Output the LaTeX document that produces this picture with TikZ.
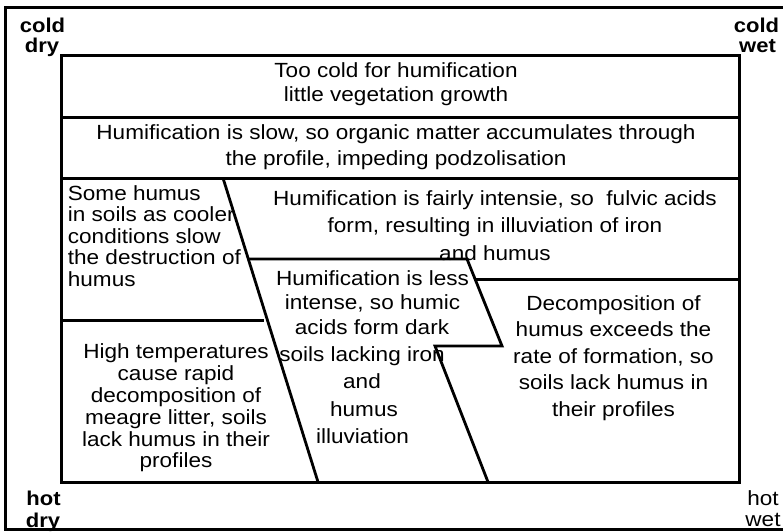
\documentclass[tikz,border=0pt]{standalone}
\usepackage{fontspec}
\setmainfont{Liberation Sans}[FakeStretch=1.1]
\begin{document}
\begin{tikzpicture}[x=1pt,y=-1pt,
  txt/.style={font=\fontsize{20.5}{24}\selectfont, inner sep=0pt, anchor=base},
  btxt/.style={font=\fontsize{20}{24}\selectfont\bfseries, inner sep=0pt, anchor=base},
  bold line/.style={line width=3pt, line join=miter},
  slant line/.style={line width=2.8pt}]
\useasboundingbox (0,0) rectangle (783,531);
% outer frame
\draw[bold line] (790,7) -- (5,7) -- (5,529) -- (790,529);
% inner box and dividers
\draw[bold line] (61,55) rectangle (739,482);
\draw[bold line] (61,117) -- (739,117);
\draw[bold line] (61,178) -- (739,178);
\draw[slant line] (223,178) -- (318,482);
\draw[bold line] (61,320) -- (264,320);
\draw[slant line] (248,259) -- (467,259) -- (502,346) -- (435,346) -- (488,482);
\draw[bold line] (476,279) -- (739,279);
% corner labels
\node[btxt] (cd1) at (42.5,32) {cold};
\node[btxt] (cd2) at (42,52) {dry};
\node[btxt] (cw1) at (756.5,32) {cold};
\node[btxt] (cw2) at (757.5,52) {wet};
\node[btxt] (hd1) at (43.5,505) {hot};
\node[btxt] (hd2) at (43,527) {dry};
\node[txt] (hw1) at (763,505) {hot};
\node[txt] (hw2) at (763,526) {wet};
% top band
\node[txt] (a1) at (396,77.7) {Too cold for humification};
\node[txt] (a2) at (396,101.7) {little vegetation growth};
% second band
\node[txt] (b1) at (396,139) {Humification is slow, so organic matter accumulates through};
\node[txt] (b2) at (396,165) {the profile, impeding podzolisation};
% top right block
\node[txt] (c1) at (495,205) {Humification is fairly intensie, so~ fulvic acids};
\node[txt] (c2) at (495,232.7) {form, resulting in illuviation of iron};
\node[txt] (c3) at (495,260) {and humus};
% left upper block
\node[txt, anchor=base west] (d1) at (67.7,200) {Some humus};
\node[txt, anchor=base west] (d2) at (67.7,221.5) {in soils as cooler};
\node[txt, anchor=base west] (d3) at (67.7,243) {conditions slow};
\node[txt, anchor=base west] (d4) at (67.7,264.5) {the destruction of};
\node[txt, anchor=base west] (d5) at (67.7,286) {humus};
% left lower block
\node[txt] (e1) at (176,358.3) {High temperatures};
\node[txt] (e2) at (176,380) {cause rapid};
\node[txt] (e3) at (176,402.7) {decomposition of};
\node[txt] (e4) at (176,424.3) {meagre litter, soils};
\node[txt] (e5) at (176,446) {lack humus in their};
\node[txt] (e6) at (176,467.3) {profiles};
% middle block
\node[txt] (f1) at (372.5,285) {Humification is less};
\node[txt] (f2) at (372.5,309) {intense, so humic};
\node[txt] (f3) at (372,334) {acids form dark};
\node[txt] (f4) at (362,361.7) {soils lacking iron};
\node[txt] (f5) at (362,388) {and};
\node[txt] (f6) at (364,416) {humus};
\node[txt] (f7) at (362.5,443) {illuviation};
% right block
\node[txt] (g1) at (613.5,310) {Decomposition of};
\node[txt] (g2) at (613.5,336.5) {humus exceeds the};
\node[txt] (g3) at (613.5,363) {rate of formation, so};
\node[txt] (g4) at (613.5,389.5) {soils lack humus in};
\node[txt] (g5) at (613.5,416) {their profiles};
\end{tikzpicture}
\end{document}
